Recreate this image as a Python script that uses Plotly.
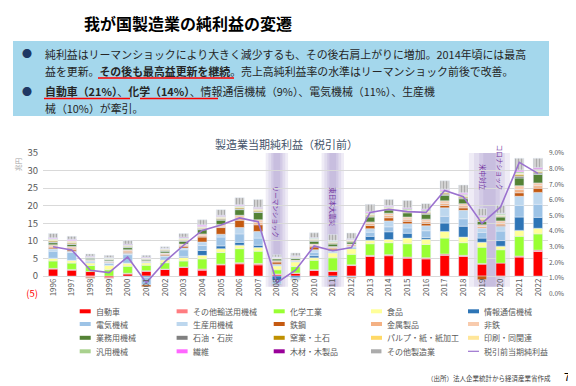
import plotly.graph_objects as go

years = ["1996","1997","1998","1999","2000","2001","2002","2003","2004","2005","2006","2007","2008",
         "2009","2010","2011","2012","2013","2014","2015","2016","2017","2018","2019","2020","2021","2022"]

jidosha   = [2.0,1.7,1.3,-0.5,0.6,1.4,1.9,2.5,1.7,3.2,3.5,3.2,0.4,0.8,1.6,1.3,3.0,5.6,5.8,5.1,4.9,5.9,5.6,3.4,3.7,5.4,7.0]
yuso      = [0.2,0.2,-0.3,-0.2,0.2,0.1,0.1,0.1,0.3,0.2,0.3,0.4,0.2,0.1,0.2,0.2,0.2,0.3,0.3,0.3,0.3,0.4,0.3,0.2,-0.2,0.3,0.4]
kagaku    = [2.1,1.8,1.7,1.8,2.0,1.6,1.8,1.7,2.9,3.3,4.0,3.5,1.2,1.8,2.7,3.7,3.0,3.3,3.4,3.8,3.8,4.5,3.6,4.6,3.8,5.6,4.6]
shokuhin  = [0.8,0.8,0.8,1.3,0.9,0.7,0.8,1.0,1.0,1.1,1.0,1.0,1.1,1.35,0.7,1.4,1.6,1.0,0.9,1.6,1.5,1.9,1.6,1.4,1.0,1.7,1.6]
joho      = [0,0,0,0,0,-0.3,0.2,0.3,1.4,0.8,0.8,0.7,-1.3,-0.5,0.6,-0.4,0.2,1.1,2.2,1.4,0.5,2.4,3.1,1.2,1.6,3.8,3.1]
denki     = [2.0,2.2,0.3,0.5,2.4,-2.2,0.7,1.9,1.4,2.5,2.4,2.0,-1.0,-0.3,1.0,-0.3,-0.3,1.2,1.4,1.5,1.9,1.9,2.1,1.6,2.7,3.3,3.7]
seisan    = [0.6,0.4,0.3,0.3,0.4,0.3,0.3,0.5,1.0,0.8,1.8,1.9,0.5,0.3,0.7,0.6,0.5,1.0,1.7,1.2,1.4,2.4,2.4,1.2,1.4,2.6,3.4]
tekko     = [0.3,0.4,-0.3,0.1,0.3,-0.5,0.3,0.5,1.4,1.9,2.1,1.9,0.6,-0.2,0.8,0.5,-0.3,0.9,0.9,0.7,0.7,0.7,0.7,-1.0,0.3,1.0,1.2]
kinzoku   = [0.5,0.5,0.2,0.2,0.4,0.2,0.3,0.3,0.4,0.4,0.6,0.6,0.3,0.2,0.4,0.4,0.4,0.5,0.6,0.6,0.6,0.6,0.6,0.5,0.5,0.9,0.7]
hitetsu   = [0.4,0.4,0.1,0.1,0.3,0.1,0.2,0.3,0.5,0.5,0.8,0.8,0.1,-0.1,0.4,0.3,0.2,0.5,0.7,0.6,0.6,0.7,0.6,0.5,0.7,1.1,0.8]
gyomu     = [0.6,0.6,0.4,0.3,0.6,0.3,0.5,0.8,1.2,1.2,1.6,2.1,0.5,0.5,0.8,0.7,0.6,1.4,0.9,1.2,1.4,1.6,1.4,1.0,1.1,2.2,2.4]
sekiyu    = [0.2,0.2,0.1,0.1,0.2,0.1,0.1,0.2,0.2,0.3,0.2,0.2,-0.2,0.1,0.2,0.2,0.1,0.2,-0.2,0.1,0.2,0.3,0.3,0.1,-0.1,0.5,0.4]
yogyo     = [0.3,0.3,0.1,0.1,0.2,0.1,0.2,0.2,0.2,0.2,0.3,0.3,0.1,0.1,0.2,0.2,0.2,0.3,0.3,0.3,0.3,0.3,0.3,0.3,0.2,0.4,0.3]
pulp      = [0.2,0.2,0.1,0.1,0.1,0.1,0.1,0.2,0.2,0.2,0.2,0.3,0.1,0.1,0.1,0.1,0.1,0.2,0.2,0.2,0.2,0.2,0.2,0.3,0.2,0.3,0.2]
insatsu   = [0.3,0.3,0.1,0.2,0.2,0.2,0.2,0.2,0.2,0.2,0.2,0.2,0.1,0.2,0.2,0.2,0.2,0.2,0.2,0.2,0.2,0.2,0.2,0.3,0.2,0.2,0.2]
hanyo     = [0.1,0.1,0.05,0.05,0.1,0.05,0.1,0.1,0.2,0.2,0.2,0.2,0.1,0.1,0.2,0.2,0.2,0.3,0.3,0.3,0.3,0.3,0.3,0.3,0.3,0.4,0.4]
seni      = [0.2,0.3,0.1,0.1,0.1,0.1,0.1,0.2,0.3,0.2,0.2,0.2,0.1,0.1,0.1,0.1,0.1,0.3,0.2,0.2,0.2,0.3,0.3,0.2,0.1,0.3,0.3]
mokuzai   = [0.1,0.1,0.05,0.05,0.1,0.05,0.05,0.1,0.1,0.1,0.1,0.1,0.05,0.05,0.05,0.05,0.05,0.1,0.1,0.1,0.1,0.1,0.1,0.1,0.1,0.2,0.2]
sonota    = [1.2,0.8,0.6,0.6,1.0,0.5,0.4,1.0,1.4,1.6,2.0,2.2,0.6,0.8,1.35,1.65,1.6,2.0,1.7,2.1,1.5,2.4,2.2,2.0,2.2,3.3,2.6]
rieki_ritsu = [3.0,2.8,1.5,1.35,2.35,0.7,2.05,3.1,4.05,4.4,4.85,4.6,0.7,1.5,3.05,2.75,2.95,5.2,5.4,5.25,5.2,6.6,6.2,4.5,5.55,8.4,7.7]

left_ticks = [-5,0,5,10,15,20,25,30,35]
left_text = ['<span style="color:#ff0000">(5)</span>',"0","5","10","15","20","25","30","35"]
right_ticks = [0,1,2,3,4,5,6,7,8,9]
right_text = ["0.0%","1.0%","2.0%","3.0%","4.0%","5.0%","6.0%","7.0%","8.0%","9.0%"]

series = [
    ("自動車", jidosha, "#ff0000"),
    ("その他輸送用機械", yuso, "#ff7c80"),
    ("化学工業", kagaku, "#99ff33"),
    ("食品", shokuhin, "#ffff99"),
    ("情報通信機械", joho, "#2e75b6"),
    ("電気機械", denki, "#9dc3e6"),
    ("生産用機械", seisan, "#bdd7ee"),
    ("鉄鋼", tekko, "#c55a11"),
    ("金属製品", kinzoku, "#f4b183"),
    ("非鉄", hitetsu, "#f8cbad"),
    ("業務用機械", gyomu, "#548235"),
    ("石油・石炭", sekiyu, "#808080"),
    ("窯業・土石", yogyo, "#bf9000"),
    ("パルプ・紙・紙加工", pulp, "#ffd966"),
    ("印刷・同関連", insatsu, "#ffe699"),
    ("汎用機械", hanyo, "#a9d18e"),
    ("繊維", seni, "#ff66ff"),
    ("木材・木製品", mokuzai, "#990099"),
    ("その他製造業", sonota, "#a6a6a6"),
]
line_name = "税引前当期純利益"
line_color = "#9b72cf"

W, H = 576, 386
def px(x): return x / W
def py(y): return 1 - y / H

FONT = "Noto Sans CJK JP"
fig = go.Figure()

for name, vals, col in series:
    if name == "その他製造業":
        marker = dict(color=col, pattern=dict(shape="|", fgcolor="#7f7f7f", bgcolor="#d9d9d9", size=3, solidity=0.45))
    else:
        marker = dict(color=col)
    fig.add_trace(go.Bar(x=years, y=vals, name=name, marker=marker, showlegend=False))

fig.add_trace(go.Scatter(x=years, y=rieki_ritsu, name=line_name, mode="lines",
                         line=dict(color=line_color, width=1.6), yaxis="y2", showlegend=False))

shapes = []
annotations = []

def note(text, x, y, size, color, xanchor="center", xref="paper", angle=0):
    annotations.append(dict(text=text, x=x, y=y, xref=xref, yref="paper", xanchor=xanchor, yanchor="middle",
                            showarrow=False, textangle=angle, font=dict(family=FONT, size=size, color=color)))

# blue text box
shapes.append(dict(type="rect", xref="paper", yref="paper", x0=px(5), x1=px(541), y0=py(108), y1=py(33),
                   fillcolor="#a4d7ec", line=dict(width=0), layer="below"))

# event bands (gradient via layered rects)
bands = [(11.4, 12.6), (14.4, 15.6), (22.3, 24.5)]
for x0, x1 in bands:
    c = (x0 + x1) / 2
    half = (x1 - x0) / 2
    for frac, op in [(1.0, 0.11), (0.75, 0.10), (0.5, 0.12), (0.3, 0.10)]:
        shapes.append(dict(type="rect", xref="x", yref="y", x0=c - half * frac, x1=c + half * frac,
                           y0=-3, y1=35, fillcolor="rgba(112,80,170,%.2f)" % op, line=dict(width=0), layer="below"))

band_texts = [("リーマンショック", 12, 203.5), ("東日本大震災", 15, 199), ("米中対立", 23.05, 170), ("コロナショック", 24.0, 159.5)]
for t, xi, yc in band_texts:
    note(t, xi, py(yc), 6.5, "#7030a0", xref="x", angle=90)

# header title
note("<b>我が国製造業の純利益の変遷</b>", px(180), py(15), 16, "#000000")

# bullet text
tc = "#262626"
lines = [
    ("純利益はリーマンショックにより大きく減少するも、その後右肩上がりに増加。2014年頃には最高", 46),
    ("益を更新。<b>その後も最高益更新を継続</b>。売上高純利益率の水準はリーマンショック前後で改善。", 63),
    ("<b>自動車（21%）</b>、<b>化学（14%）</b>、情報通信機械（9%）、電気機械（11%）、生産機", 83),
    ("械（10%）が牽引。", 100),
]
for t, yc in lines:
    note(t, px(35), py(yc), 10.9, tc, xanchor="left")
for yc in (46, 83):
    note("●", px(19), py(yc), 10, "#1f3864")
# red underlines
for x0, x1, yy in [(90, 226, 70), (36, 122, 90.5), (132, 210, 90.5)]:
    shapes.append(dict(type="line", xref="paper", yref="paper", x0=px(x0), x1=px(x1), y0=py(yy), y1=py(yy),
                       line=dict(color="#ff0000", width=1.6)))

# chart title
note("製造業当期純利益（税引前）", px(278), py(136), 11, "#44546a")
# unit label
note("兆円", px(10), py(157), 6.5, "#a6a6a6", angle=-90)

# custom legend
col_x = [71.7, 168.6, 265.7, 363.0, 460.0]
row_y = [303.3, 316.0, 329.8, 343.3]
items = [(n, c) for n, _, c in series] + [(line_name, line_color)]
for i, (n, c) in enumerate(items):
    r, k = divmod(i, 5)
    x0 = col_x[k]
    yc = row_y[r]
    if n == line_name:
        shapes.append(dict(type="line", xref="paper", yref="paper", x0=px(x0), x1=px(x0 + 11), y0=py(yc), y1=py(yc),
                           line=dict(color=c, width=1.2)))
    elif n == "その他製造業":
        shapes.append(dict(type="rect", xref="paper", yref="paper", x0=px(x0), x1=px(x0 + 11), y0=py(yc + 2), y1=py(yc - 2),
                           fillcolor="#d9d9d9", line=dict(width=0)))
        for sx in (1, 3, 5, 7, 9):
            shapes.append(dict(type="line", xref="paper", yref="paper", x0=px(x0 + sx), x1=px(x0 + sx), y0=py(yc + 2), y1=py(yc - 2),
                               line=dict(color="#7f7f7f", width=1)))
    else:
        shapes.append(dict(type="rect", xref="paper", yref="paper", x0=px(x0), x1=px(x0 + 11), y0=py(yc + 2), y1=py(yc - 2),
                           fillcolor=c, line=dict(width=0)))
    note(n, px(x0 + 14), py(yc), 8, "#595959", xanchor="left")

# source & page number
note("（出所）法人企業統計から経済産業省作成", px(545), py(370), 6.5, "#404040", xanchor="right")
note("7", px(559), py(368), 11, "#000000")

ydom = [py(285.7), py(145)]
fig.update_layout(
    width=W, height=H, autosize=False,
    margin=dict(l=0, r=0, t=0, b=0, pad=0, autoexpand=False),
    paper_bgcolor="#ffffff", plot_bgcolor="rgba(0,0,0,0)",
    barmode="relative", bargap=0.5,
    font=dict(family=FONT, color="#595959"),
    xaxis=dict(type="category", domain=[px(35), px(540)], range=[-0.54, 26.54], anchor="free",
               position=py(268), showgrid=False, showline=False, zeroline=False, ticks="", automargin=False,
               tickangle=-90, tickfont=dict(size=8, color="#595959", family=FONT)),
    yaxis=dict(domain=ydom, range=[-5, 35], tickvals=left_ticks, ticktext=left_text, showgrid=True,
               gridcolor="#d9d9d9", gridwidth=1, zeroline=False, showline=False, ticks="", automargin=False,
               ticklabelstandoff=4, tickfont=dict(size=9.5, color="#595959", family=FONT)),
    yaxis2=dict(domain=ydom, range=[0, 9], overlaying="y", side="right", anchor="x", tickvals=right_ticks,
                ticktext=right_text, showgrid=False, zeroline=False, showline=False, ticks="", automargin=False,
                tickfont=dict(size=6.5, color="#595959", family=FONT)),
    shapes=shapes, annotations=annotations,
)

fig.write_html("out.html")
